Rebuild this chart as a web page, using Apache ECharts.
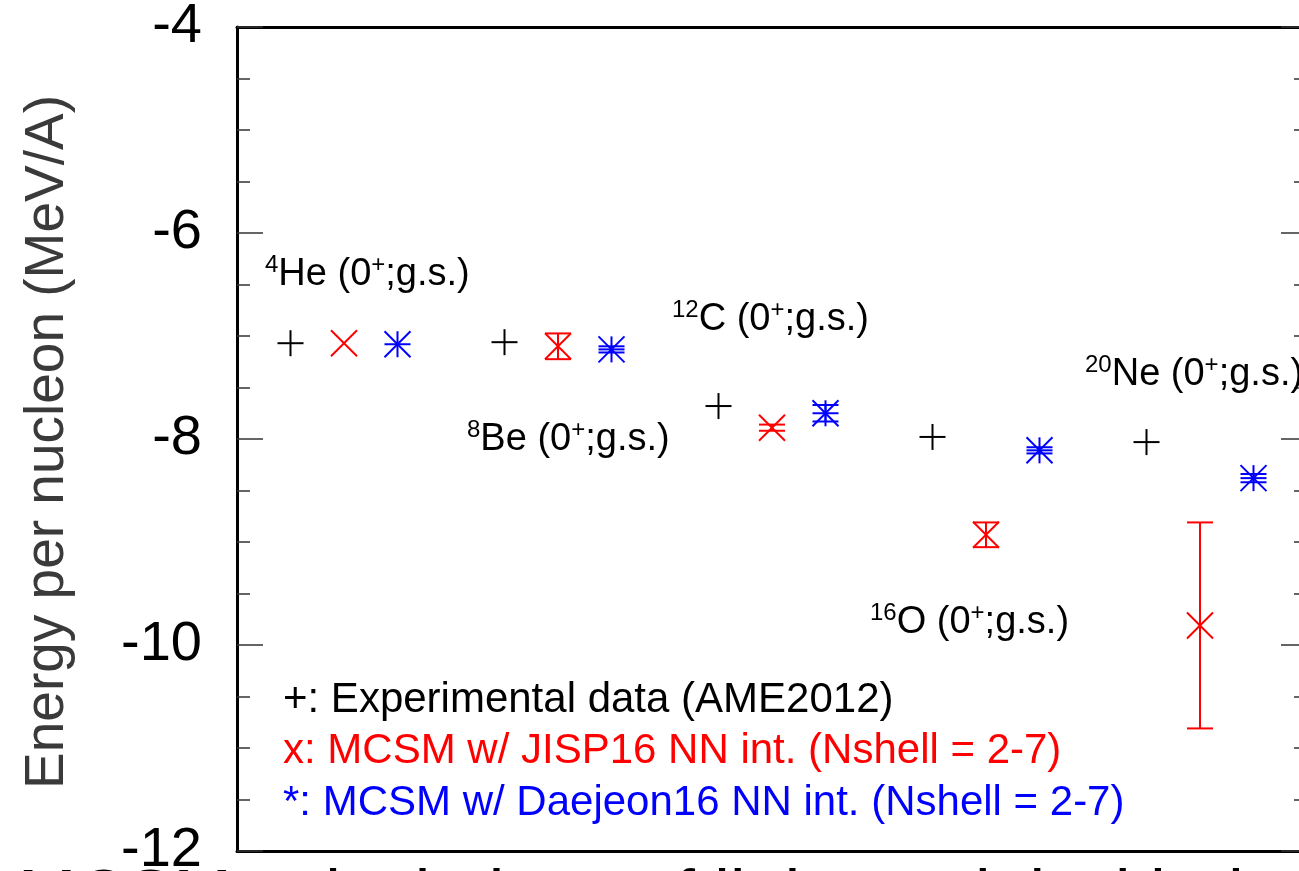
<!DOCTYPE html>
<html>
<head>
<meta charset="utf-8">
<script src="https://cdn.jsdelivr.net/npm/echarts@6/dist/echarts.min.js"></script>
<style>
html,body{margin:0;padding:0;background:#fff;overflow:hidden;}
#chart{width:1299px;height:871px;}
</style>
</head>
<body>
<div id="chart"></div>
<script>
// ---- data ----
const nucleiSup = ['4', '8', '12', '16', '20'];
const nucleiSym = ['He', 'Be', 'C', 'O', 'Ne'];
const expX = [1, 5, 9, 13, 17];
const expE = [-7.07, -7.06, -7.68, -7.98, -8.03];
const jispX = [2, 6, 10, 14, 18];
const jispE = [-7.07, -7.10, -7.89, -8.93, -9.81];
const jispErr = [0.0, 0.125, 0.03, 0.12, 1.0];
const daejX = [3, 7, 11, 15, 19];
const daejE = [-7.08, -7.13, -7.75, -8.11, -8.38];
const daejErr = [0.0, 0.03, 0.08, 0.03, 0.04];
const yTicks = [-12, -10, -8, -6, -4];
const legendTexts = [
  '+: Experimental data (AME2012)',
  'x: MCSM w/ JISP16 NN int. (Nshell = 2-7)',
  '*: MCSM w/ Daejeon16 NN int. (Nshell = 2-7)'
];

const FONT = '"Liberation Sans", Arial, Helvetica, sans-serif';

function build(xs, ys, errs) {
  return xs.map((x, i) => [x, ys[i], errs ? errs[i] : 0]);
}

function symRenderer(kind, color) {
  return function (params, api) {
    const x = api.value(0), y = api.value(1), e = api.value(2);
    const p = api.coord([x, y]);
    const h = 13, lw = 2;
    const st = { stroke: color, lineWidth: lw, fill: null };
    const ch = [];
    const line = (x1, y1, x2, y2) => ch.push({ type: 'line', shape: { x1, y1, x2, y2 }, style: st });
    if (kind === 'plus' || kind === 'star') {
      line(p[0] - h, p[1], p[0] + h, p[1]);
      line(p[0], p[1] - h, p[0], p[1] + h);
    }
    if (kind === 'cross' || kind === 'star') {
      line(p[0] - h, p[1] - h, p[0] + h, p[1] + h);
      line(p[0] - h, p[1] + h, p[0] + h, p[1] - h);
    }
    if (e > 0) {
      const t = api.coord([x, y + e]), b = api.coord([x, y - e]);
      line(t[0], t[1], b[0], b[1]);
      line(t[0] - h, t[1], t[0] + h, t[1]);
      line(b[0] - h, b[1], b[0] + h, b[1]);
    }
    return { type: 'group', children: ch };
  };
}

const labelPos = [
  [265, 275], [467, 440], [672, 320], [870, 623], [1085, 375]
];

const richStyle = {
  m: { fontSize: 38, lineHeight: 44, fontFamily: FONT, fill: '#000' },
  sup: { fontSize: 24, lineHeight: 28, fontFamily: FONT, fill: '#000', verticalAlign: 'top' }
};

const graphics = [];
nucleiSym.forEach((s, i) => {
  graphics.push({
    type: 'text', x: labelPos[i][0], y: labelPos[i][1], z: 10,
    style: {
      text: '{sup|' + nucleiSup[i] + '}{m|' + s + ' (0}{sup|+}{m|;g.s.)}',
      rich: richStyle, textAlign: 'left', textVerticalAlign: 'middle'
    }
  });
});
const legendColors = ['#000000', '#ff0000', '#0000ff'];
const legendY = [700, 751, 803];
legendTexts.forEach((t, i) => {
  graphics.push({
    type: 'text', x: 283, y: legendY[i], z: 10,
    style: { text: t, fontSize: 42, fontFamily: FONT, fill: legendColors[i], textAlign: 'left', textVerticalAlign: 'middle' }
  });
});
graphics.push({
  type: 'text', x: 48, y: 442, rotation: Math.PI / 2, z: 10,
  style: { text: 'Energy per nucleon (MeV/A)', fontSize: 55, fontFamily: FONT, fill: '#3a3a3a', textAlign: 'center', textVerticalAlign: 'middle' }
});
graphics.push({
  type: 'text', x: 18, y: 865, z: 10,
  style: { text: 'MCSM calculations of light nuclei with the new NN interactions', fontSize: 70, fontFamily: FONT, fill: '#000', textAlign: 'left', textVerticalAlign: 'top' }
});

const chart = echarts.init(document.getElementById('chart'), null, { renderer: 'canvas' });
const yCommon = {
  type: 'value', min: -12, max: -4, interval: 2,
  splitLine: { show: false },
  minorTick: { show: true, splitNumber: 4, length: 13, lineStyle: { color: '#333', width: 1.5 } },
  axisTick: { show: true, inside: true, length: 26, lineStyle: { color: '#333', width: 1.5 } },
  axisLine: { show: true, onZero: false, lineStyle: { color: '#000', width: 3 } }
};
const xCommon = {
  type: 'value', min: 0, max: 20,
  axisLine: { show: true, onZero: false, lineStyle: { color: '#000', width: 3 } },
  axisTick: { show: false }, axisLabel: { show: false }, splitLine: { show: false }
};
chart.setOption({
  animation: false,
  backgroundColor: '#fff',
  grid: { left: 237, top: 27, width: 1070, height: 824, containLabel: false, outerBoundsMode: 'none' },
  xAxis: [
    Object.assign({}, xCommon, { position: 'bottom' }),
    Object.assign({}, xCommon, { position: 'top' })
  ],
  yAxis: [
    Object.assign({}, yCommon, { position: 'left', axisLabel: { show: true, fontSize: 56, fontFamily: FONT, color: '#000', margin: 35, formatter: v => (yTicks.includes(v) ? String(v) : '') } }),
    Object.assign({}, yCommon, { position: 'right', axisLabel: { show: false } })
  ],
  graphic: graphics,
  series: [
    { type: 'custom', name: 'exp', renderItem: symRenderer('plus', '#000'), data: build(expX, expE), clip: false, encode: { x: 0, y: 1 } },
    { type: 'custom', name: 'jisp', renderItem: symRenderer('cross', '#ff0000'), data: build(jispX, jispE, jispErr), clip: false, encode: { x: 0, y: 1 } },
    { type: 'custom', name: 'daej', renderItem: symRenderer('star', '#0000ff'), data: build(daejX, daejE, daejErr), clip: false, encode: { x: 0, y: 1 } }
  ]
});
</script>
</body>
</html>
